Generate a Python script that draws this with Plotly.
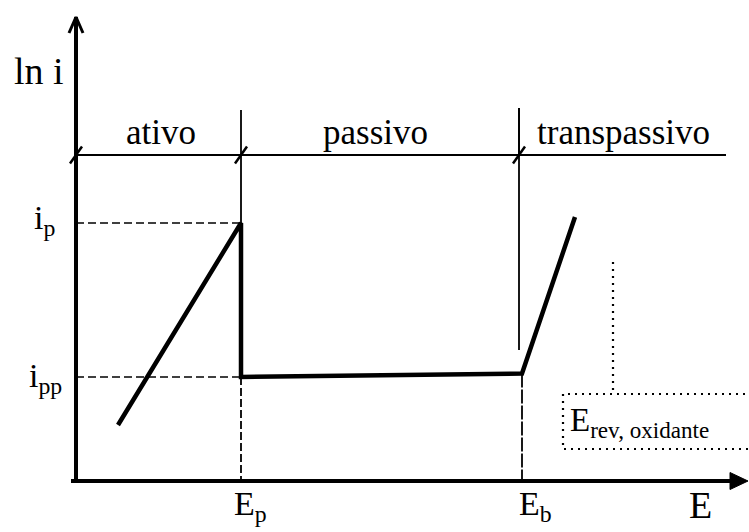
import plotly.graph_objects as go

# Schematic anodic polarisation curve (ln i versus E) of an active/passive metal.
# Values are in arbitrary schematic units.

# characteristic potentials and currents
E_P = 3.30          # primary passivation potential
E_B = 8.92          # breakdown (transpassive) potential
E_REV = 10.74       # reversible potential of the oxidant
I_P = 5.16          # critical passivation current (ln)
I_PP = 2.08         # passive current (ln)

# polarisation curve: active branch, drop to passivity, passive plateau, transpassive rise
curve_E = [0.84, E_P, E_P, E_B, 9.98]
curve_lnI = [1.12, I_P, I_PP, 2.15, 5.28]

# thin drop line just before the breakdown potential
drop_E = [8.86, 8.86]
drop_lnI = [7.46, 2.62]

# region header line and the region names
REGION_LEVEL = 6.52
REGION_END = 13.0
region_names = ["ativo", "passivo", "transpassivo"]
region_label_E = [1.70, 5.98, 10.94]
region_tick_E = [0.0, E_P, 8.86]

# axis extents
E_AXIS_END = 13.44
LNI_AXIS_END = 9.28

# dotted marker for E_rev and its label box
erev_line_lnI = [4.38, 1.74]
box_E = [13.8, 9.74, 9.74, 13.8]
box_lnI = [1.74, 1.74, 0.64, 0.64]

INK = "black"
FONT = "Liberation Serif"

fig = go.Figure()


def line(xs, ys, width=1.5, dash=None, fill=None):
    fig.add_trace(go.Scatter(
        x=xs, y=ys, mode="lines",
        line=dict(color=INK, width=width, dash=dash),
        fill=fill, fillcolor=INK if fill else None,
        hoverinfo="skip", showlegend=False,
    ))


# axes
line([0, 0], [0, LNI_AXIS_END], width=4)
line([-0.1, E_AXIS_END - 0.2], [0, 0], width=4)
# open arrow on the ln i axis
line([-0.14, 0, 0.14], [LNI_AXIS_END - 0.32, LNI_AXIS_END, LNI_AXIS_END - 0.32], width=3)
# filled arrow on the E axis
line([E_AXIS_END, E_AXIS_END - 0.36, E_AXIS_END - 0.36, E_AXIS_END],
     [0, 0.17, -0.17, 0], width=1, fill="toself")

# region header
line([0, REGION_END], [REGION_LEVEL, REGION_LEVEL], width=2.2)
for te in region_tick_E:
    line([te - 0.12, te + 0.12], [REGION_LEVEL - 0.17, REGION_LEVEL + 0.17], width=2.5)

# boundary at E_p
line([E_P, E_P], [7.42, I_P], width=1.8)
line([E_P, E_P], [I_PP, 0], width=1.8, dash="8px,3px")
# boundary at E_b
line([8.86, 8.86], [7.46, REGION_LEVEL], width=1.8)
line(drop_E, drop_lnI, width=1.8)
line([E_B, E_B], [curve_lnI[3], 0], width=1.8, dash="14px,2px")

# guide lines to the current levels
line([0, E_P], [I_P, I_P], width=1.6, dash="8px,4px")
line([0, E_P], [I_PP, I_PP], width=1.6, dash="8px,4px")

# polarisation curve
line(curve_E, curve_lnI, width=4.5)

# E_rev dotted marker and box
line([E_REV, E_REV], erev_line_lnI, width=2.2, dash="2px,5px")
line(box_E, box_lnI, width=2.2, dash="2px,5px")

annotations = []


def label(text, x, y, size, xanchor="center"):
    annotations.append(dict(
        x=x, y=y, xref="x", yref="y", text=text, showarrow=False,
        xanchor=xanchor, yanchor="middle",
        font=dict(family=FONT, size=size, color=INK),
    ))


label("ln i", -0.74, 8.2, 38)
for name, xe in zip(region_names, region_label_E):
    label(name, xe, 6.98, 35)
label("i<sub>p</sub>", -0.64, I_P + 0.06, 34)
label("i<sub>pp</sub>", -0.62, I_PP - 0.02, 34)
label("E<sub>p</sub>", 3.48, -0.5, 34)
label("E<sub>b</sub>", 9.18, -0.5, 34)
label("E", 12.48, -0.48, 38)
label("E<sub>rev, oxidante</sub>", 9.84, 1.18, 33, xanchor="left")

fig.update_layout(
    width=749, height=532,
    margin=dict(l=0, r=0, t=0, b=0),
    paper_bgcolor="white", plot_bgcolor="white",
    xaxis=dict(range=[-1.52, 13.46], visible=False, fixedrange=True),
    yaxis=dict(range=[-1.02, 9.62], visible=False, fixedrange=True),
    annotations=annotations,
    showlegend=False,
)

fig.write_html("out.html")
